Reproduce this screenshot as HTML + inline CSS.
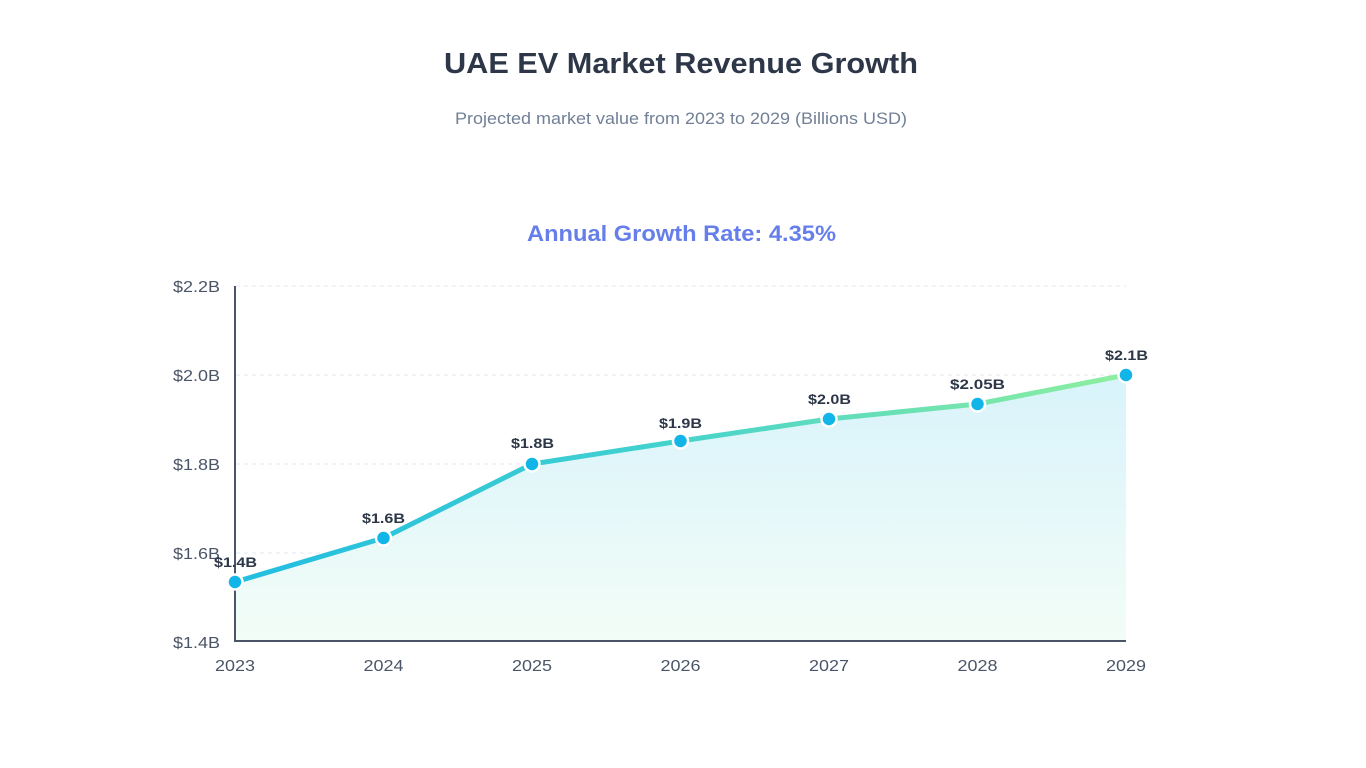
<!DOCTYPE html>
<html><head><meta charset="utf-8"><style>
html,body{margin:0;padding:0;background:#fff;width:1366px;height:768px;overflow:hidden;font-family:"Liberation Sans",sans-serif}
</style></head><body>
<svg width="1366" height="768" viewBox="0 0 1366 768" xmlns="http://www.w3.org/2000/svg" font-family="Liberation Sans, sans-serif">
<defs>
<linearGradient id="lg" x1="235" y1="0" x2="1126" y2="0" gradientUnits="userSpaceOnUse">
<stop offset="0" stop-color="#22bde0"/><stop offset="0.45" stop-color="#40d0d0"/><stop offset="1" stop-color="#8eef9e"/>
</linearGradient>
<linearGradient id="ag" x1="0" y1="375" x2="0" y2="642" gradientUnits="userSpaceOnUse">
<stop offset="0" stop-color="#d8f3fb"/><stop offset="1" stop-color="#f3fdf7"/>
</linearGradient>
</defs>
<text x="444" y="73" textLength="474" lengthAdjust="spacingAndGlyphs" font-size="29" font-weight="bold" fill="#2d3748">UAE EV Market Revenue Growth</text>
<text x="455" y="124" textLength="452" lengthAdjust="spacingAndGlyphs" font-size="17" fill="#718096">Projected market value from 2023 to 2029 (Billions USD)</text>
<text x="527" y="241" textLength="309" lengthAdjust="spacingAndGlyphs" font-size="22" font-weight="bold" fill="#667eea">Annual Growth Rate: 4.35%</text>
<g stroke="#e2e8f0" stroke-dasharray="4,4" stroke-width="1">
<line x1="236" y1="286" x2="1126" y2="286"/><line x1="236" y1="375" x2="1126" y2="375"/>
<line x1="236" y1="464" x2="1126" y2="464"/><line x1="236" y1="553" x2="1126" y2="553"/>
</g>
<path d="M235,582 L383.5,538 L532,464 L680.5,441 L829,419 L977.5,404 L1126,375 L1126,641 L235,641 Z" fill="url(#ag)"/>
<line x1="235" y1="286" x2="235" y2="642" stroke="#4a5568" stroke-width="2"/>
<line x1="234" y1="641" x2="1126" y2="641" stroke="#4a5568" stroke-width="2"/>
<g font-size="16" fill="#4a5568">
<text x="173" y="292" textLength="47" lengthAdjust="spacingAndGlyphs">$2.2B</text><text x="173" y="381" textLength="47" lengthAdjust="spacingAndGlyphs">$2.0B</text><text x="173" y="470" textLength="47" lengthAdjust="spacingAndGlyphs">$1.8B</text><text x="173" y="559" textLength="47" lengthAdjust="spacingAndGlyphs">$1.6B</text><text x="173" y="648" textLength="47" lengthAdjust="spacingAndGlyphs">$1.4B</text>
</g>
<g font-size="16" fill="#4a5568">
<text x="215" y="671" textLength="40" lengthAdjust="spacingAndGlyphs">2023</text><text x="363.5" y="671" textLength="40" lengthAdjust="spacingAndGlyphs">2024</text><text x="512" y="671" textLength="40" lengthAdjust="spacingAndGlyphs">2025</text><text x="660.5" y="671" textLength="40" lengthAdjust="spacingAndGlyphs">2026</text><text x="809" y="671" textLength="40" lengthAdjust="spacingAndGlyphs">2027</text><text x="957.5" y="671" textLength="40" lengthAdjust="spacingAndGlyphs">2028</text><text x="1106" y="671" textLength="40" lengthAdjust="spacingAndGlyphs">2029</text>
</g>
<polyline points="235,582 383.5,538 532,464 680.5,441 829,419 977.5,404 1126,375" fill="none" stroke="url(#lg)" stroke-width="5" stroke-linejoin="round"/>
<g fill="#12b5e8" stroke="#fff" stroke-width="2.5">
<circle cx="235" cy="582" r="7.5"/><circle cx="383.5" cy="538" r="7.5"/><circle cx="532" cy="464" r="7.5"/><circle cx="680.5" cy="441" r="7.5"/><circle cx="829" cy="419" r="7.5"/><circle cx="977.5" cy="404" r="7.5"/><circle cx="1126" cy="375" r="7.5"/>
</g>
<g font-size="14" font-weight="bold" fill="#2d3748">
<text x="214" y="567" textLength="43" lengthAdjust="spacingAndGlyphs">$1.4B</text><text x="362" y="523" textLength="43" lengthAdjust="spacingAndGlyphs">$1.6B</text><text x="511" y="448" textLength="43" lengthAdjust="spacingAndGlyphs">$1.8B</text><text x="659" y="428" textLength="43" lengthAdjust="spacingAndGlyphs">$1.9B</text><text x="808" y="404" textLength="43" lengthAdjust="spacingAndGlyphs">$2.0B</text><text x="950" y="389" textLength="55" lengthAdjust="spacingAndGlyphs">$2.05B</text><text x="1105" y="360" textLength="43" lengthAdjust="spacingAndGlyphs">$2.1B</text>
</g>
</svg>
</body></html>
